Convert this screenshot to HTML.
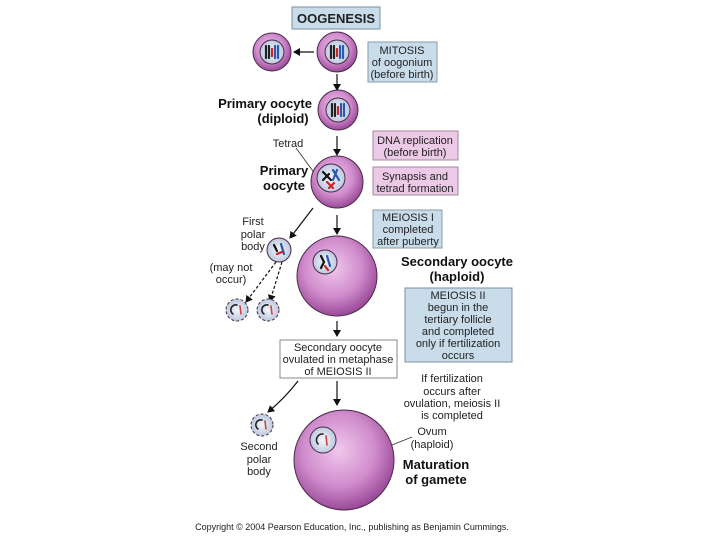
<!DOCTYPE html>
<html><head><meta charset="utf-8"><style>
body{margin:0;width:720px;height:540px;background:#fff;overflow:hidden;font-family:"Liberation Sans",sans-serif}
svg text{font-family:"Liberation Sans",sans-serif}
</style></head><body>
<svg width="720" height="540" viewBox="0 0 720 540">
<defs>
<radialGradient id="c" cx="45%" cy="40%" r="60%"><stop offset="0" stop-color="#f0c8ec"/><stop offset="0.6" stop-color="#d08ccc"/><stop offset="1" stop-color="#9a4a98"/></radialGradient>
<radialGradient id="n" cx="50%" cy="50%" r="55%"><stop offset="0" stop-color="#f4f6fb"/><stop offset="1" stop-color="#b8c4dc"/></radialGradient>
<marker id="a" markerWidth="8" markerHeight="8" refX="6" refY="4" orient="auto" markerUnits="userSpaceOnUse"><path d="M0,0L7,4L0,8z" fill="#111"/></marker>
</defs>
<g font-size="11" fill="#222">
<rect x="292" y="7" width="88" height="22" fill="#c9dce9" stroke="#7a8ea0"/>
<text x="336" y="23" text-anchor="middle" font-weight="bold" font-size="13">OOGENESIS</text>
<rect x="368" y="42" width="69" height="40" fill="#c9dce9" stroke="#8a9aaa"/>
<text x="402" y="54" text-anchor="middle">MITOSIS</text><text x="402" y="66" text-anchor="middle">of oogonium</text><text x="402" y="78" text-anchor="middle">(before birth)</text>
<rect x="373" y="131" width="85" height="29" fill="#ecc9e6" stroke="#a08aa0"/>
<text x="415" y="144" text-anchor="middle">DNA replication</text><text x="415" y="156" text-anchor="middle">(before birth)</text>
<rect x="373" y="167" width="85" height="28" fill="#ecc9e6" stroke="#a08aa0"/>
<text x="415" y="180" text-anchor="middle">Synapsis and</text><text x="415" y="192" text-anchor="middle">tetrad formation</text>
<rect x="373" y="210" width="69" height="38" fill="#c9dce9" stroke="#8a9aaa"/>
<text x="408" y="221" text-anchor="middle">MEIOSIS I</text><text x="408" y="233" text-anchor="middle">completed</text><text x="408" y="245" text-anchor="middle">after puberty</text>
<rect x="405" y="288" width="107" height="74" fill="#c9dce9" stroke="#7a8ea0"/>
<g text-anchor="middle"><text x="458" y="299">MEIOSIS II</text><text x="458" y="311">begun in the</text><text x="458" y="323">tertiary follicle</text><text x="458" y="335">and completed</text><text x="458" y="347">only if fertilization</text><text x="458" y="359">occurs</text></g>
<rect x="280" y="340" width="117" height="38" fill="#fff" stroke="#888"/>
<g text-anchor="middle"><text x="338" y="351">Secondary oocyte</text><text x="338" y="363">ovulated in metaphase</text><text x="338" y="375">of MEIOSIS II</text></g>
<g font-weight="bold" font-size="13" fill="#111">
<text x="312" y="108" text-anchor="end">Primary oocyte</text><text x="283" y="123" text-anchor="middle">(diploid)</text>
<text x="284" y="175" text-anchor="middle">Primary</text><text x="284" y="190" text-anchor="middle">oocyte</text>
<text x="457" y="266" text-anchor="middle">Secondary oocyte</text><text x="457" y="281" text-anchor="middle">(haploid)</text>
<text x="436" y="469" text-anchor="middle">Maturation</text><text x="436" y="484" text-anchor="middle">of gamete</text>
</g>
<text x="288" y="147" text-anchor="middle">Tetrad</text>
<g text-anchor="middle"><text x="253" y="225">First</text><text x="253" y="238">polar</text><text x="253" y="250">body</text>
<text x="231" y="271">(may not</text><text x="231" y="283">occur)</text>
<text x="452" y="382">If fertilization</text><text x="452" y="395">occurs after</text><text x="452" y="407">ovulation, meiosis II</text><text x="452" y="419">is completed</text>
<text x="259" y="450">Second</text><text x="259" y="463">polar</text><text x="259" y="475">body</text>
<text x="432" y="435">Ovum</text><text x="432" y="448">(haploid)</text></g>
<text x="352" y="530" text-anchor="middle" font-size="9">Copyright © 2004 Pearson Education, Inc., publishing as Benjamin Cummings.</text>
</g>
<g stroke="#111" stroke-width="1.2" fill="none" marker-end="url(#a)">
<line x1="314" y1="52" x2="294" y2="52"/>
<line x1="337" y1="74" x2="337" y2="90"/>
<line x1="337" y1="136" x2="337" y2="155"/>
<line x1="337" y1="215" x2="337" y2="234"/>
<line x1="313" y1="208" x2="290" y2="238"/>
<line x1="337" y1="321" x2="337" y2="336"/>
<line x1="337" y1="381" x2="337" y2="405"/>
<path d="M298,381 Q285,398 268,412"/>
<line x1="276" y1="262" x2="246" y2="302" stroke-dasharray="3,2"/>
<line x1="282" y1="262" x2="270" y2="301" stroke-dasharray="3,2"/>
</g>
<line x1="296" y1="148" x2="318" y2="178" stroke="#333" stroke-width="0.8"/>
<line x1="392" y1="445" x2="412" y2="437" stroke="#333" stroke-width="0.8"/>
<g stroke="#4a2a4a" stroke-width="1">
<circle cx="272" cy="52" r="19" fill="url(#c)"/>
<circle cx="337" cy="52" r="20" fill="url(#c)"/>
<circle cx="338" cy="110" r="20" fill="url(#c)"/>
<circle cx="337" cy="182" r="26" fill="url(#c)"/>
<circle cx="337" cy="276" r="40" fill="url(#c)"/>
<circle cx="344" cy="460" r="50" fill="url(#c)"/>
<circle cx="279" cy="250" r="12" fill="url(#n)"/>
<circle cx="237" cy="310" r="11" fill="url(#n)" stroke-dasharray="3,2"/>
<circle cx="268" cy="310" r="11" fill="url(#n)" stroke-dasharray="3,2"/>
<circle cx="262" cy="425" r="11" fill="url(#n)" stroke-dasharray="3,2"/>
<circle cx="272" cy="52" r="12" fill="url(#n)"/>
<circle cx="337" cy="52" r="12" fill="url(#n)"/>
<circle cx="338" cy="110" r="12" fill="url(#n)"/>
<circle cx="331" cy="178" r="14" fill="url(#n)"/>
<circle cx="325" cy="262" r="12" fill="url(#n)"/>
<circle cx="323" cy="440" r="13" fill="url(#n)"/>
</g>
<g stroke-width="2.2" fill="none" stroke-linecap="round">
<g transform="translate(272,52)"><path d="M-6,-6v12M-3,-6v12" stroke="#222"/><path d="M0,-3v7" stroke="#c22"/><path d="M3,-6v12M6,-6v12" stroke="#2a5ab0"/></g>
<g transform="translate(337,52)"><path d="M-6,-6v12M-3,-6v12" stroke="#222"/><path d="M0,-3v7" stroke="#c22"/><path d="M3,-6v12M6,-6v12" stroke="#2a5ab0"/></g>
<g transform="translate(338,110)"><path d="M-6,-6v12M-3,-6v12" stroke="#222"/><path d="M0,-3v7" stroke="#c22"/><path d="M3,-6v12M6,-6v12" stroke="#2a5ab0"/></g>
<g transform="translate(331,178)"><path d="M-8,-6l8,8M-8,2l6,-6" stroke="#111"/><path d="M-4,4l6,6M-2,10l5,-5" stroke="#c22"/><path d="M2,-8l6,10M6,-8l-4,10" stroke="#2a5ab0"/></g>
<g transform="translate(325,262)"><path d="M-4,-6l3,6l-3,6" stroke="#111"/><path d="M2,-6l3,10" stroke="#2a5ab0"/><path d="M0,4l3,4" stroke="#c22"/></g>
<g transform="translate(279,250)"><path d="M-5,-5l3,6" stroke="#111"/><path d="M2,-6l3,10" stroke="#2a5ab0"/><path d="M-2,4l5,-2" stroke="#c22"/></g>
<g stroke-width="1.6"><path d="M233,314a5,5 0 0 1 4,-9" stroke="#222"/><path d="M240,306l1,8" stroke="#c44"/>
<path d="M264,314a5,5 0 0 1 4,-9" stroke="#222"/><path d="M271,306l1,8" stroke="#c44"/>
<path d="M258,429a5,5 0 0 1 4,-9" stroke="#222"/><path d="M265,421l1,8" stroke="#c44"/>
<path d="M318,444a6,6 0 0 1 5,-10" stroke="#222"/><path d="M326,436l1,9" stroke="#c44"/></g>
</g>
</svg>
</body></html>
